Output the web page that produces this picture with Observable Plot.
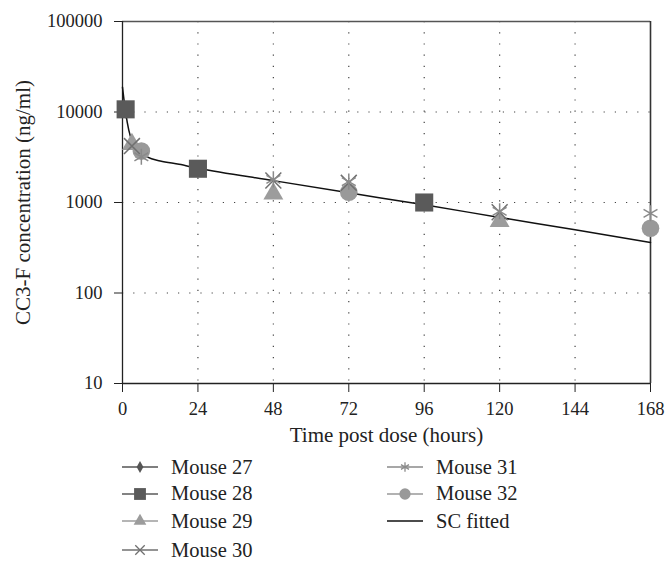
<!DOCTYPE html>
<html>
<head>
<meta charset="utf-8">
<script src="https://cdn.jsdelivr.net/npm/d3@7"></script>
<script src="https://cdn.jsdelivr.net/npm/@observablehq/plot@0.6"></script>
<style>
  html, body { margin: 0; padding: 0; background: #fff; }
  #wrap { position: relative; width: 667px; height: 561px; font-family: "Liberation Serif", "DejaVu Serif", serif; color: #222; }
  .leg { position: absolute; display: flex; align-items: center; font-size: 20.5px; height: 26px; }
  .leg svg { display: block; margin-right: 13px; }
</style>
</head>
<body>
<div id="wrap"><div id="chart"></div><div id="legend"></div></div>
<script>
// ---- data ----
const xTicks = [0, 24, 48, 72, 96, 120, 144, 168];
const yTicks = [10, 100, 1000, 10000, 100000];

const mouse27T = [1, 24, 96];
const mouse27C = [10400, 2300, 1000];
const mouse28T = [1, 24, 96];
const mouse28C = [10700, 2360, 1000];
const mouse29T = [3, 48, 120];
const mouse29C = [4400, 1250, 620];
const mouse30T = [3, 48, 72, 120];
const mouse30C = [4200, 1750, 1650, 780];
const mouse31T = [6, 48, 72, 120, 168];
const mouse31C = [3200, 1800, 1700, 800, 760];
const mouse32T = [6, 72, 168];
const mouse32C = [3700, 1300, 520];

const fitT = [0, 1, 2, 3, 4, 6, 8, 12, 18, 24, 48, 72, 96, 120, 144, 168];
const fitC = [18800, 9900, 6300, 4800, 4200, 3550, 3170, 2880, 2640, 2390, 1745, 1280, 942, 684, 499, 361];

const seriesNames = ["Mouse 27", "Mouse 28", "Mouse 29", "Mouse 30", "Mouse 31", "Mouse 32", "SC fitted"];

// ---- build tables ----
const rows = (t, c) => t.map((d, i) => ({t: d, c: c[i]}));
const d27 = rows(mouse27T, mouse27C);
const d28 = rows(mouse28T, mouse28C);
const d29 = rows(mouse29T, mouse29C);
const d30 = rows(mouse30T, mouse30C);
const d31 = rows(mouse31T, mouse31C);
const d32 = rows(mouse32T, mouse32C);
const fit = rows(fitT, fitC);

const styles = {
  "Mouse 27": {symbol: "diamond", color: "#555555", r: 5, filled: true},
  "Mouse 28": {symbol: "square", color: "#5a5a5a", r: 10.2, filled: true},
  "Mouse 29": {symbol: "triangle", color: "#9c9c9c", r: 7.4, filled: true},
  "Mouse 30": {symbol: "times", color: "#707070", r: 7.3, filled: false},
  "Mouse 31": {symbol: "asterisk", color: "#8a8a8a", r: 7.6, filled: false},
  "Mouse 32": {symbol: "circle", color: "#999999", r: 8.8, filled: true}
};
const dotMark = (data, name) => {
  const s = styles[name];
  return s.filled
    ? Plot.dot(data, {x: "t", y: "c", symbol: () => s.symbol, r: s.r, fill: s.color, stroke: "none"})
    : Plot.dot(data, {x: "t", y: "c", symbol: () => s.symbol, r: s.r, stroke: s.color, strokeWidth: 1.5, fill: "none"});
};

const chart = Plot.plot({
  width: 667,
  height: 450,
  marginLeft: 122,
  marginRight: 17,
  marginTop: 21,
  marginBottom: 67,
  style: {fontFamily: "Liberation Serif", fontSize: "18.5px", color: "#222", background: "#fff"},
  x: {domain: [0, 168], label: null},
  y: {type: "log", domain: [10, 100000], label: null},
  marks: [
    Plot.gridX(xTicks.slice(1, -1), {stroke: "#444", strokeOpacity: 1, strokeWidth: 1.2, strokeDasharray: "1.2,10"}),
    Plot.gridY(yTicks.slice(1, -1), {stroke: "#444", strokeOpacity: 1, strokeWidth: 1.2, strokeDasharray: "1.2,10"}),
    Plot.ruleY([100000], {stroke: "#555", strokeWidth: 1.6}),
    Plot.ruleX([168], {stroke: "#333", strokeWidth: 1.6}),
    Plot.axisX(xTicks, {tickSize: 9, tickPadding: 9, tickFormat: d => String(d), stroke: "#222"}),
    Plot.axisY(yTicks, {tickSize: 8, tickPadding: 12, tickFormat: d => String(d), stroke: "#222"}),
    Plot.ruleX([0], {stroke: "#222", strokeWidth: 1.3}),
    Plot.ruleY([10], {stroke: "#222", strokeWidth: 1.3}),
    Plot.line(fit, {x: "t", y: "c", stroke: "#111", strokeWidth: 1.5, curve: "monotone-x"}),
    dotMark(d27, "Mouse 27"),
    dotMark(d28, "Mouse 28"),
    dotMark(d29, "Mouse 29"),
    dotMark(d32, "Mouse 32"),
    dotMark(d30, "Mouse 30"),
    dotMark(d31, "Mouse 31"),
    Plot.text(["Time post dose (hours)"], {frameAnchor: "bottom", dy: 52, fontSize: 21, lineAnchor: "middle", textAnchor: "middle", fill: "#222"}),
    Plot.text(["CC3-F concentration (ng/ml)"], {frameAnchor: "left", dx: -99, rotate: -90, fontSize: 21, lineAnchor: "middle", textAnchor: "middle", fill: "#222"})
  ]
});
document.getElementById("chart").appendChild(chart);

// ---- legend ----
const legend = document.getElementById("legend");
const legSym = {
  "Mouse 27": {type: d3.symbolDiamond, size: 40},
  "Mouse 28": {type: d3.symbolSquare, size: 140},
  "Mouse 29": {type: d3.symbolTriangle, size: 70},
  "Mouse 30": {type: d3.symbolTimes, size: 60},
  "Mouse 31": {type: d3.symbolAsterisk, size: 60},
  "Mouse 32": {type: d3.symbolCircle, size: 100}
};
const positions = [
  [122, 454], [122, 480.5], [122, 508], [122, 537],
  [387, 454], [387, 480.5], [387, 508]
];
seriesNames.forEach((name, i) => {
  const div = document.createElement("div");
  div.className = "leg";
  div.style.left = positions[i][0] + "px";
  div.style.top = positions[i][1] + "px";
  const svg = d3.create("svg").attr("width", 36).attr("height", 26);
  if (name === "SC fitted") {
    svg.append("line").attr("x1", 0).attr("x2", 36).attr("y1", 13).attr("y2", 13).attr("stroke", "#111").attr("stroke-width", 1.5);
  } else {
    const s = styles[name];
    svg.append("line").attr("x1", 0).attr("x2", 36).attr("y1", 13).attr("y2", 13).attr("stroke", s.color).attr("stroke-width", 1.5);
    const p = svg.append("path").attr("transform", "translate(18,13)")
      .attr("d", d3.symbol().type(legSym[name].type).size(legSym[name].size)());
    if (s.filled) p.attr("fill", s.color); else p.attr("fill", "none").attr("stroke", s.color).attr("stroke-width", 1.3);
  }
  div.appendChild(svg.node());
  const span = document.createElement("span");
  span.textContent = name;
  div.appendChild(span);
  legend.appendChild(div);
});
</script>
</body>
</html>
